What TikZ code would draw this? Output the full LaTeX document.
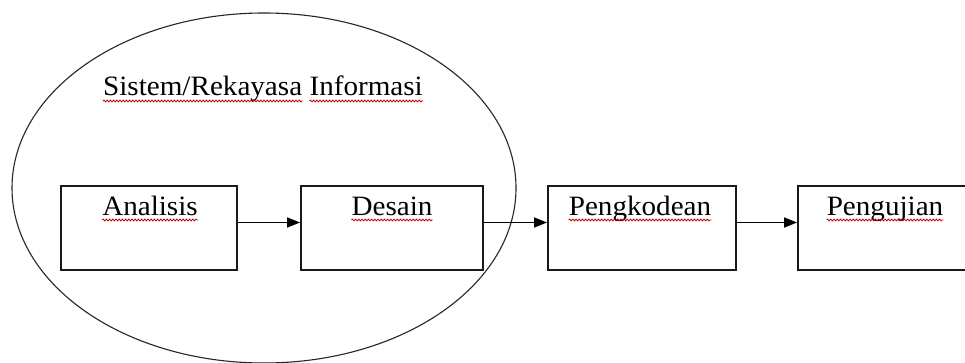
\documentclass[tikz,border=0pt]{standalone}
\usepackage{fontspec}
\usepackage{graphicx}
\setmainfont{Liberation Serif}
\usetikzlibrary{arrows.meta,decorations.pathmorphing,shapes.geometric}
\newcommand{\wtxt}[1]{\scalebox{1.04}[1]{#1}}
\begin{document}
\begin{tikzpicture}[x=1pt,y=-1pt,
  box/.style={draw=black!90,line width=1.9pt,inner sep=0pt,minimum height=84pt},
  lbl/.style={font=\fontsize{28}{32}\selectfont,inner sep=0pt,anchor=base,text=black},
  flow/.style={draw=black,line width=1.5pt,-{Triangle[length=13pt,width=10pt]}},
  squig/.style={draw=red!75!black,line width=0.8pt,decorate,decoration={snake,amplitude=0.9pt,segment length=3.2pt}}]
\useasboundingbox (0,0) rectangle (965,363);
\fill[white] (0,0) rectangle (965,363);
% system ellipse
\node[draw=black!85,line width=1.1pt,ellipse,inner sep=0pt,minimum width=504pt,minimum height=350pt] (sys) at (264,188) {};
% boxes
\node[box,minimum width=176pt] (a) at (149,228) {};
\node[box,minimum width=182pt] (d) at (392,228) {};
\node[box,minimum width=188pt] (p) at (642,228) {};
\node[box,minimum width=174pt] (u) at (885,228) {};
% labels
\node[lbl,anchor=base west] (t1) at (103,96) {\wtxt{Sistem/Rekayasa}};
\node[lbl,anchor=base east] (t2) at (423,96) {\wtxt{Informasi}};
\node[lbl] (la) at (150,215) {\wtxt{Analisis}};
\node[lbl] (ld) at (392,215) {\wtxt{Desain}};
\node[lbl] (lp) at (640,215) {\wtxt{Pengkodean}};
\node[lbl] (lu) at (885,215) {\wtxt{Pengujian}};
% spell-check squiggles
\foreach \n in {t1,t2,la,ld,lp,lu}
  \draw[squig] ([yshift=-5pt]\n.base west) -- ([yshift=-5pt]\n.base east);
% arrows
\draw[flow] ([yshift=5.5pt]a.east) -- ([yshift=5.5pt]d.west);
\draw[flow] ([yshift=5.5pt]d.east) -- ([yshift=5.5pt]p.west);
\draw[flow] ([yshift=5.5pt]p.east) -- ([yshift=5.5pt]u.west);
\end{tikzpicture}
\end{document}
